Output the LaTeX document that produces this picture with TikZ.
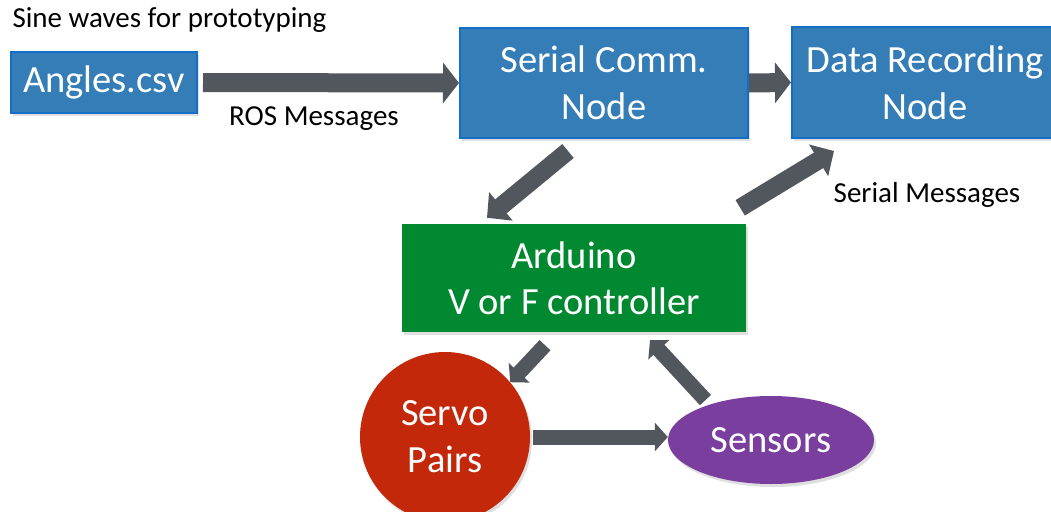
\documentclass[tikz,border=0pt]{standalone}
\usepackage{fontspec}
\setmainfont{Carlito}
\usetikzlibrary{arrows.meta,calc,shadows,shapes.geometric}
\definecolor{boxblue}{RGB}{52,125,182}
\definecolor{boxedge}{RGB}{20,110,200}
\definecolor{ardgreen}{RGB}{0,137,48}
\definecolor{servored}{RGB}{196,40,10}
\definecolor{senspurple}{RGB}{122,62,158}
\definecolor{arrowgray}{RGB}{82,87,94}
\begin{document}
\begin{tikzpicture}[x=1pt,y=-1pt,
  bigtext/.style={font=\fontsize{38.5}{45}\selectfont, text=white, align=center, inner sep=0pt},
  smalltext/.style={font=\fontsize{29}{35}\selectfont, text=black},
  softshadow/.style={drop shadow={opacity=0.25,shadow xshift=2pt,shadow yshift=-3pt}},
  bluebox/.style={bigtext, rectangle, fill=boxblue, draw=boxedge, line width=2pt, softshadow},
  toparrow/.style={draw=arrowgray, line width=19pt, -{Triangle[length=16pt,width=40pt]}},
  diagarrow/.style={draw=arrowgray, line width=18pt, -{Triangle[length=18pt,width=36pt]}},
  smallarrow/.style={draw=arrowgray, line width=15pt, -{Triangle[length=13pt,width=28pt]}}
]
\clip (0,0) rectangle (1051,511);
\fill[white] (0,0) rectangle (1051,511);

% nodes
\node[bluebox, minimum width=186pt, minimum height=61pt] (angles) at (104,82.5) {\raisebox{-2pt}{Angles.csv}};
\node[bluebox, minimum width=288pt, minimum height=110pt] (serial) at (604,83) {Serial Comm.\\[2pt]Node};
\node[bluebox, minimum width=266pt, minimum height=111pt] (data) at (925,82.5) {Data Recording\\[2pt]Node};
\node[bigtext, rectangle, fill=ardgreen, minimum width=344pt, minimum height=108pt, softshadow] (ard) at (574,278) {Arduino\\[1pt]V or F controller};
\node[bigtext, circle, fill=servored, minimum size=170pt, softshadow] (servo) at (445,437) {Servo\\[2pt]Pairs};
\node[bigtext, ellipse, fill=senspurple, minimum width=206pt, minimum height=88pt, softshadow] (sens) at (771,440) {Sensors};

% labels
\node[smalltext, anchor=west] (sine) at (9,20) {Sine waves for prototyping};
\node[smalltext] (ros) at (314,119) {ROS Messages};
\node[smalltext] (sermsg) at (927,195) {Serial Messages};

% connectors
\draw[toparrow, shorten <=5pt] (angles.east) -- (serial.west);
\draw[toparrow] (serial.east) -- (data.west);
\draw[diagarrow] ($(serial.south)+(-36,12)$) -- ($(ard.north)+(-87,-6)$);
\draw[diagarrow] ($(ard.north east)+(-6,-16)$) -- ($(data.south west)+(43,12)$);
\draw[smallarrow] ($(ard.south)+(-29,13)$) -- (servo.40);
\draw[smallarrow, shorten <=6pt] (sens.150) -- ($(ard.south)+(76,8)$);
\draw[smallarrow, shorten <=3pt] (servo.east) -- (servo.east -| sens.west);
\end{tikzpicture}
\end{document}
